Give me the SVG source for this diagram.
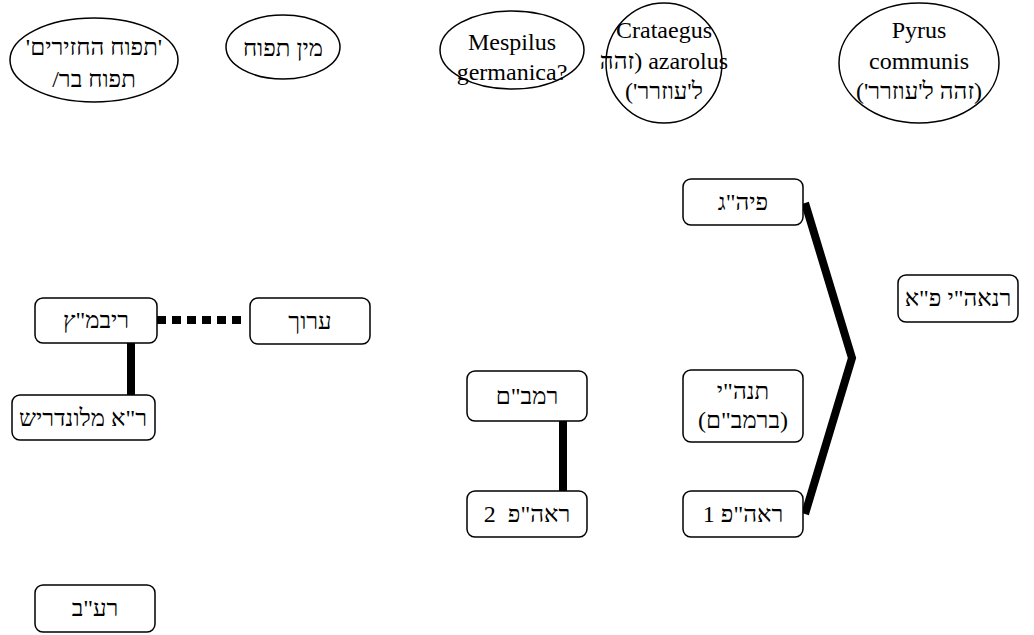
<svg xmlns="http://www.w3.org/2000/svg" width="1034" height="635" viewBox="0 0 1034 635">
<style>
  .shape { fill: #ffffff; stroke: #000000; stroke-width: 1.5; }
  .lbl { font-family: "Liberation Serif", "Times New Roman", "DejaVu Sans", serif; font-size: 24px; fill: #000000; text-anchor: middle; }
  .rtl { direction: rtl; unicode-bidi: embed; }
  .pre { white-space: pre; }
  .edge { fill: none; stroke: #000000; stroke-width: 8; }
  .dotted { stroke-dasharray: 9 6; }
</style>
<rect width="1034" height="635" fill="#ffffff"/>
<g id="connectors">
  <line class="edge dotted" x1="157" y1="320" x2="242" y2="320"/>
  <line class="edge" x1="131" y1="343" x2="131" y2="395"/>
  <line class="edge" x1="563" y1="421" x2="563" y2="491"/>
  <polyline class="edge" stroke-width="7" stroke-linejoin="miter" points="805,203 852,358 805,514"/>
</g>
<g id="n_tapuach_hazirim">
  <ellipse class="shape" cx="94" cy="60" rx="84" ry="42"/>
  <text class="lbl rtl" x="94" y="55">'תפוח החזירים'</text>
  <text class="lbl rtl" x="94" y="87">תפוח בר/</text>
</g>
<g id="n_min_tapuach">
  <ellipse class="shape" cx="283" cy="47" rx="57" ry="32"/>
  <text class="lbl rtl" x="283" y="56">מין תפוח</text>
</g>
<g id="n_mespilus">
  <ellipse class="shape" cx="512" cy="50" rx="72" ry="39"/>
  <text class="lbl" x="512" y="50">Mespilus</text>
  <text class="lbl" x="512" y="80">germanica?</text>
</g>
<g id="n_crataegus">
  <ellipse class="shape" cx="664" cy="63" rx="58" ry="60"/>
  <text class="lbl rtl" x="664" y="38">Crataegus</text>
  <text class="lbl rtl" x="664" y="69">azarolus (זהה</text>
  <text class="lbl rtl" x="664" y="99">ל'עוזרר')</text>
</g>
<g id="n_pyrus">
  <ellipse class="shape" cx="919" cy="63" rx="80" ry="60"/>
  <text class="lbl rtl" x="919" y="38">Pyrus</text>
  <text class="lbl rtl" x="919" y="69">communis</text>
  <text class="lbl rtl" x="919" y="99">(זהה ל'עוזרר')</text>
</g>
<g id="n_pihag">
  <rect class="shape" x="683" y="179" width="120" height="46" rx="8"/>
  <text class="lbl rtl" x="743" y="210">פיה"ג</text>
</g>
<g id="n_ranaei">
  <rect class="shape" x="898" y="275" width="120" height="47" rx="8"/>
  <text class="lbl rtl" x="958" y="306">רנאה"י פ"א</text>
</g>
<g id="n_ribmatz">
  <rect class="shape" x="35" y="298" width="122" height="45" rx="8"/>
  <text class="lbl rtl" x="96" y="328">ריבמ"ץ</text>
</g>
<g id="n_aruch">
  <rect class="shape" x="250" y="298" width="120" height="46" rx="8"/>
  <text class="lbl rtl" x="310" y="329">ערוך</text>
</g>
<g id="n_ra_milondrish">
  <rect class="shape" x="12" y="395" width="143" height="45" rx="8"/>
  <text class="lbl rtl" x="83" y="426">ר"א מלונדריש</text>
</g>
<g id="n_rambam">
  <rect class="shape" x="467" y="371" width="120" height="50" rx="8"/>
  <text class="lbl rtl" x="527" y="404">רמב"ם</text>
</g>
<g id="n_tanhi">
  <rect class="shape" x="683" y="370" width="120" height="72" rx="8"/>
  <text class="lbl rtl" x="743" y="399">תנה"י</text>
  <text class="lbl rtl" x="743" y="428">(ברמב"ם)</text>
</g>
<g id="n_reah_2">
  <rect class="shape" x="467" y="491" width="120" height="46" rx="8"/>
  <text class="lbl rtl pre" x="527" y="522">ראה"פ  2</text>
</g>
<g id="n_reah_1">
  <rect class="shape" x="683" y="491" width="120" height="46" rx="8"/>
  <text class="lbl rtl" x="743" y="522">ראה"פ 1</text>
</g>
<g id="n_raav">
  <rect class="shape" x="35" y="585" width="120" height="47" rx="8"/>
  <text class="lbl rtl" x="95" y="616">רע"ב</text>
</g>
</svg>
